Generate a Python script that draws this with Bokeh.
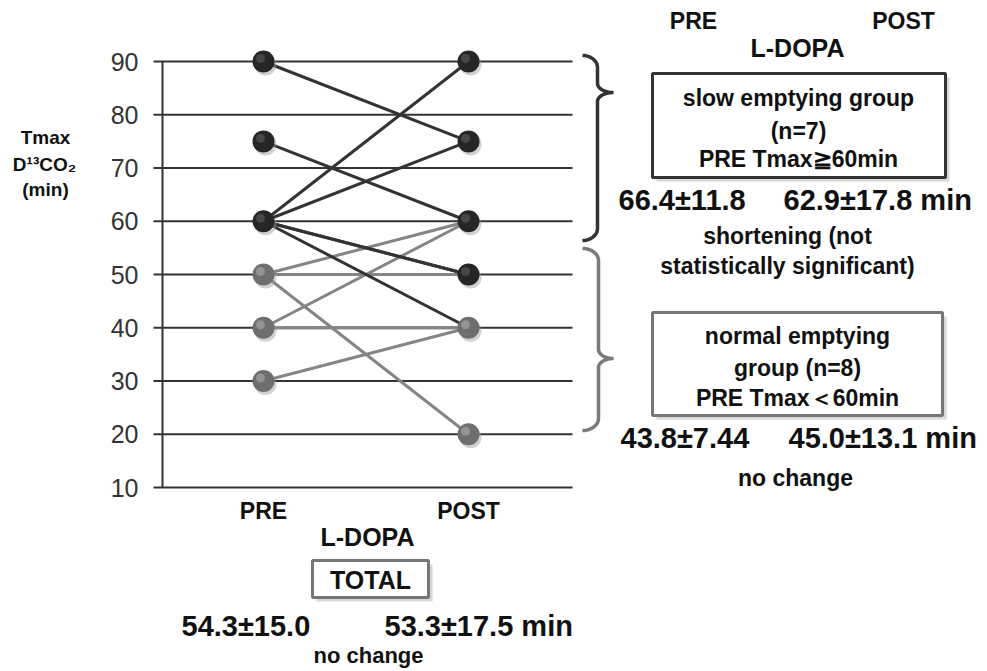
import numpy as np
from bokeh.plotting import figure
from bokeh.models import Range1d
from bokeh.core.properties import value
from bokeh.embed import file_html
from bokeh.resources import INLINE

# ---------------- data ----------------
TIMES = ["PRE", "POST"]
TICKS = [10, 20, 30, 40, 50, 60, 70, 80, 90]
TICK_LABELS = [str(t) for t in TICKS]

# slow emptying group (n=7): PRE -> POST Tmax (min)
SLOW_PRE = [90, 75, 60, 60, 60, 60, 60]
SLOW_POST = [75, 60, 90, 75, 50, 50, 40]
# normal emptying group (n=8)
NORMAL_PRE = [50, 50, 50, 50, 40, 40, 40, 30]
NORMAL_POST = [60, 50, 50, 20, 60, 40, 40, 40]

# marker positions (time index, value) by colour
DARK_MARK_T = [1, 1, 1, 2, 2, 2, 2]
DARK_MARK_V = [90, 75, 60, 90, 75, 60, 50]
GREY_MARK_T = [1, 1, 1, 2, 2]
GREY_MARK_V = [50, 40, 30, 40, 20]

SLOW_STATS = ["66.4±11.8", "62.9±17.8 min"]
NORMAL_STATS = ["43.8±7.44", "45.0±13.1 min"]
TOTAL_STATS = ["54.3±15.0", "53.3±17.5 min"]

# ---------------- layout helpers (page pixels -> data) ----------------
def X(px):
    return 1 + (np.asarray(px, dtype=float) - 263.0) / 205.0

def Y(py):
    return 90 - (np.asarray(py, dtype=float) - 61.0) / 5.325

W, H = 986, 670
FONT = value("Liberation Sans")

p = figure(width=W, height=H, output_backend="svg", toolbar_location=None,
           x_range=Range1d(float(X(0)), float(X(W))),
           y_range=Range1d(float(Y(H)), float(Y(0))),
           x_axis_location=None, y_axis_location=None,
           min_border=0, min_border_left=0, min_border_right=0,
           min_border_top=0, min_border_bottom=0)
p.outline_line_color = None
p.xgrid.grid_line_color = None
p.ygrid.grid_line_color = None
p.background_fill_color = "white"

# value axis: horizontal lines with outward ticks, axis line, tick labels
n = len(TICKS)
p.segment(x0=[float(X(153))] * n, x1=[float(X(572))] * n, y0=TICKS, y1=TICKS,
          line_color="#333333", line_width=2)
p.segment(x0=[float(X(162))], x1=[float(X(162))], y0=[min(TICKS)], y1=[max(TICKS)],
          line_color="#333333", line_width=2)
p.text(x=[float(X(138))] * n, y=TICKS, text=TICK_LABELS, text_font=FONT,
       text_font_size="25px", text_color="#333333", text_align="right", text_baseline="middle")

# subject lines
p.segment(x0=[1] * len(NORMAL_PRE), x1=[2] * len(NORMAL_POST), y0=NORMAL_PRE, y1=NORMAL_POST,
          line_color="#858585", line_width=3)
p.segment(x0=[1] * len(SLOW_PRE), x1=[2] * len(SLOW_POST), y0=SLOW_PRE, y1=SLOW_POST,
          line_color="#333333", line_width=3)

# markers (shadow, body, highlight)
dxs, dys = 2 / 205.0, 3 / 5.325
dxh, dyh = 3 / 205.0, 3 / 5.325
for ts, vs, body, hi in [(DARK_MARK_T, DARK_MARK_V, "#262626", "#555555"),
                         (GREY_MARK_T, GREY_MARK_V, "#6e6e6e", "#a2a2a2")]:
    ts = np.array(ts, dtype=float)
    vs = np.array(vs, dtype=float)
    p.scatter(ts + dxs, vs - dys, size=22, fill_color="#9a9a9a", fill_alpha=0.45, line_color=None)
    p.scatter(ts, vs, size=22, fill_color=body, line_color=None)
    p.scatter(ts - dxh, vs + dyh, size=9, fill_color=hi, fill_alpha=0.7, line_color=None)

# braces
def brace(x0, xv, xt, ytop, ytip, ybot, r=12, r2=9, k=14):
    t = np.linspace(0, np.pi / 2, k)
    xs = np.concatenate([x0 + (xv - x0) * np.sin(t), xt - (xt - xv) * np.cos(t),
                         xt - (xt - xv) * np.sin(t), x0 + (xv - x0) * np.cos(t)])
    ys = np.concatenate([ytop + r - r * np.cos(t), ytip - r2 + r2 * np.sin(t),
                         ytip + r2 - r2 * np.cos(t), ybot - r + r * np.sin(t)])
    return X(xs), Y(ys)

bx, by = brace(582, 597, 613, 55, 92, 240)
p.line(bx, by, line_color="#333333", line_width=3.5)
bx, by = brace(582, 598, 613, 248, 358, 430)
p.line(bx, by, line_color="#7a7a7a", line_width=3.5)

# boxes with shadow
def box(l, r, t, b, col):
    p.quad(left=[float(X(l + 4))], right=[float(X(r + 4))], top=[float(Y(t + 4))], bottom=[float(Y(b + 4))],
           fill_color="#bdbdbd", fill_alpha=0.6, line_color=None)
    p.quad(left=[float(X(l))], right=[float(X(r))], top=[float(Y(t))], bottom=[float(Y(b))],
           fill_color="white", line_color=col, line_width=3)

box(652, 945, 73, 177, "#333333")
box(652, 942, 312, 415, "#777777")
box(312, 428, 560, 597, "#777777")

def txt(px, py, s, size, align="center", color="#111111", bold=True):
    p.text(x=[float(X(px))], y=[float(Y(py))], text=[s], text_font=FONT,
           text_font_size=f"{size}px", text_font_style="bold" if bold else "normal",
           text_align=align, text_baseline="middle", text_color=color)

# y-axis title
txt(45, 137, "Tmax", 19)
txt(44, 164, "D¹³CO₂", 19)
txt(45, 189, "(min)", 19)

# bottom L-DOPA labels
p.text(x=[1, 2], y=[float(Y(510))] * 2, text=TIMES, text_font=FONT, text_font_size="23px",
       text_font_style="bold", text_align="center", text_baseline="middle", text_color="#111111")
txt(367, 536, "L-DOPA", 25)
txt(370, 579, "TOTAL", 25)
txt(181, 625, TOTAL_STATS[0], 29, align="left")
txt(384, 625, TOTAL_STATS[1], 29, align="left")
txt(368, 655, "no change", 22)

# top-right
txt(693, 20, TIMES[0], 23)
txt(903, 20, TIMES[1], 23)
txt(797, 47, "L-DOPA", 25)
txt(798, 97, "slow emptying group", 23)
txt(798, 130, "(n=7)", 23)
txt(798, 158, "PRE Tmax≧60min", 23)
txt(618, 199, SLOW_STATS[0], 29, align="left")
txt(783, 199, SLOW_STATS[1], 29, align="left")
txt(787, 235, "shortening (not", 23)
txt(787, 265, "statistically significant)", 23)

txt(797, 335, "normal emptying", 23)
txt(797, 367, "group (n=8)", 23)
txt(797, 397, "PRE Tmax＜60min", 23)
txt(620, 437, NORMAL_STATS[0], 29, align="left")
txt(788, 437, NORMAL_STATS[1], 29, align="left")
txt(795, 477, "no change", 23)

open("out.html", "w").write(file_html(p, INLINE))
